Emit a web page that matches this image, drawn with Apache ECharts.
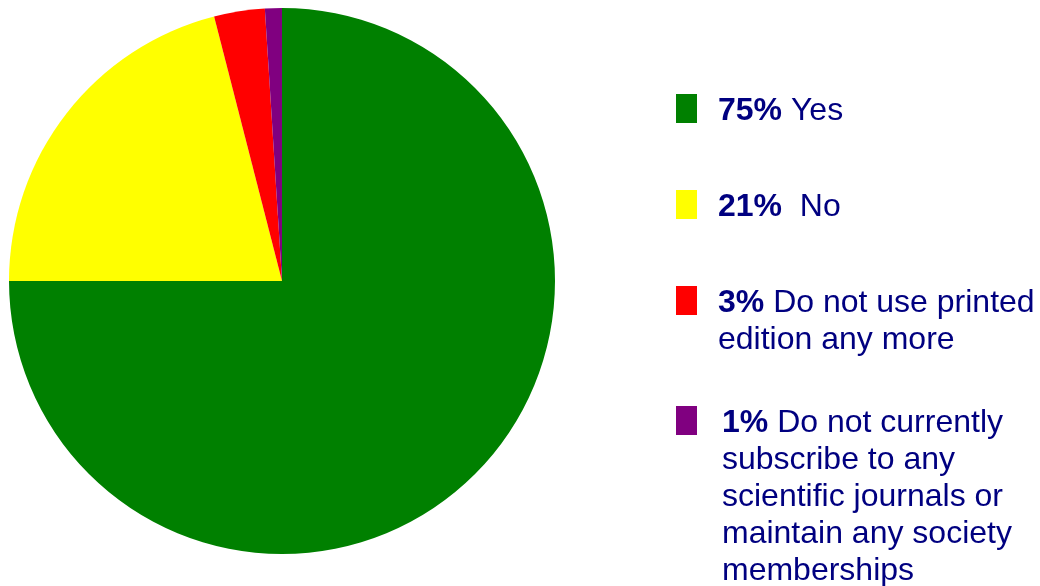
<!DOCTYPE html>
<html><head><meta charset="utf-8">
<script src="https://cdn.jsdelivr.net/npm/echarts@6/dist/echarts.min.js"></script>
<style>html,body{margin:0;padding:0;background:#fff}#c{width:1040px;height:586px}</style>
</head><body><div id="c"></div>
<script>
const categories = ['Yes', 'No', 'Do not use printed\nedition any more', 'Do not currently\nsubscribe to any\nscientific journals or\nmaintain any society\nmemberships'];
const values = [75, 21, 3, 1];
const pctLabels = ['75%', '21%', '3%', '1%'];
const sepLabels = [' ', '  ', ' ', ' '];
const colors = ['#008000', '#FFFF00', '#FF0000', '#800080'];

const iconTops = [91, 187, 283, 403];
const textLeftPad = [16, 16, 16, 20];
const LH = 37, IH = 29;

const legends = categories.map((name, i) => {
  const n = name.split('\n').length;
  const P = (n - 1) * LH;
  const boxTop = IH / 2 - ((n * LH) + P) / 2;
  return {
    data: [name],
    left: 676,
    top: iconTops[i] + boxTop,
    padding: 0,
    orient: 'vertical',
    icon: 'rect',
    itemWidth: 21,
    itemHeight: IH,
    selectedMode: false,
    formatter: function (nm) {
      const idx = categories.indexOf(nm);
      return '{b|' + pctLabels[idx] + '}' + sepLabels[idx] + nm.split('\n').join('\n');
    },
    textStyle: {
      color: '#000080',
      fontFamily: 'Liberation Sans, Arial, sans-serif',
      fontSize: 32,
      lineHeight: LH,
      padding: [P + 6, 0, 0, textLeftPad[i]],
      rich: {
        b: { fontWeight: 'bold', fontSize: 32, color: '#000080', fontFamily: 'Liberation Sans, Arial, sans-serif', lineHeight: LH }
      }
    }
  };
});

const chart = echarts.init(document.getElementById('c'), null, { renderer: 'canvas' });
chart.setOption({
  animation: false,
  color: colors,
  legend: legends,
  series: [{
    type: 'pie',
    center: [282, 281],
    radius: 273,
    startAngle: 90,
    clockwise: true,
    label: { show: false },
    labelLine: { show: false },
    itemStyle: { borderColor: '#ffffff', borderWidth: 0 },
    emphasis: { disabled: true },
    data: categories.map((c, i) => ({ name: c, value: values[i] }))
  }]
});
</script></body></html>
